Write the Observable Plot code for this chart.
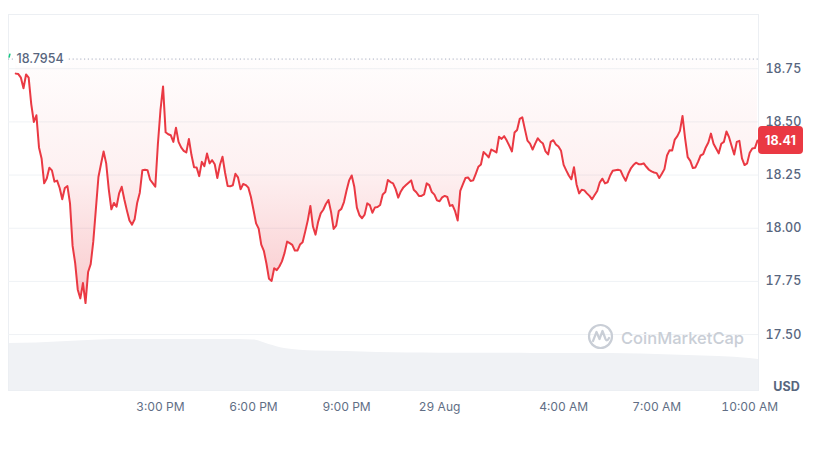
<!DOCTYPE html>
<html><head><meta charset="utf-8">
<script src="https://cdn.jsdelivr.net/npm/d3@7"></script>
<script src="https://cdn.jsdelivr.net/npm/@observablehq/plot@0.6"></script>
<style>
html,body{margin:0;padding:0;background:#fff;}
#wrap{position:relative;width:816px;height:450px;font-family:Inter,"Noto Sans",sans-serif;}
#wrap svg{position:absolute;left:0;top:0;}
</style></head><body><div id="wrap"></div>
<script>
// ---- data ----
const startTime = "2024-08-28T10:20:00Z";
const stepMinutes = 5;
const prices = [
18.727,18.725,18.708,18.658,18.723,18.708,18.584,18.500,18.531,18.380,
18.328,18.211,18.234,18.284,18.272,18.219,18.224,18.189,18.136,18.189,
18.198,18.117,17.917,17.836,17.711,17.670,17.742,17.648,17.794,17.831,
17.937,18.089,18.241,18.302,18.361,18.305,18.183,18.089,18.119,18.101,
18.164,18.195,18.136,18.084,18.036,18.017,18.042,18.120,18.167,18.273,
18.275,18.273,18.228,18.212,18.195,18.395,18.555,18.667,18.451,18.442,
18.437,18.406,18.473,18.406,18.380,18.364,18.356,18.420,18.344,18.287,
18.286,18.245,18.312,18.292,18.351,18.305,18.320,18.301,18.236,18.297,
18.336,18.261,18.198,18.197,18.202,18.256,18.239,18.183,18.208,18.203,
18.191,18.147,18.086,18.023,17.998,17.923,17.894,17.834,17.762,17.752,
17.812,17.803,17.820,17.844,17.883,17.937,17.930,17.922,17.895,17.895,
17.923,17.934,17.984,18.037,18.105,18.008,17.970,18.030,18.070,18.087,
18.114,18.133,18.077,17.997,18.012,18.081,18.091,18.123,18.177,18.225,
18.248,18.195,18.097,18.061,18.047,18.064,18.117,18.109,18.073,18.098,
18.100,18.109,18.159,18.170,18.227,18.217,18.211,18.184,18.144,18.173,
18.192,18.203,18.214,18.225,18.181,18.169,18.152,18.152,18.159,18.211,
18.203,18.170,18.158,18.131,18.127,18.145,18.152,18.147,18.105,18.109,
18.080,18.036,18.176,18.206,18.236,18.239,18.222,18.225,18.256,18.289,
18.300,18.358,18.347,18.333,18.370,18.364,18.356,18.430,18.420,18.433,
18.412,18.387,18.361,18.450,18.462,18.514,18.522,18.466,18.412,18.398,
18.370,18.398,18.423,18.408,18.398,18.361,18.347,18.406,18.414,18.394,
18.384,18.364,18.298,18.272,18.248,18.230,18.287,18.206,18.164,18.181,
18.178,18.164,18.152,18.136,18.156,18.175,18.216,18.233,18.211,18.216,
18.248,18.270,18.273,18.275,18.272,18.245,18.223,18.256,18.281,18.297,
18.308,18.301,18.301,18.305,18.289,18.275,18.267,18.262,18.259,18.236,
18.256,18.278,18.342,18.367,18.366,18.417,18.433,18.458,18.528,18.423,
18.334,18.317,18.283,18.286,18.312,18.342,18.348,18.380,18.403,18.445,
18.397,18.375,18.352,18.397,18.406,18.455,18.428,18.387,18.347,18.406,
18.411,18.328,18.297,18.305,18.355,18.375,18.377,18.412
];
const openPrice = 18.7954;
const lastPriceLabel = "18.41";
const currency = "USD";
const yTicks = [17.5, 17.75, 18, 18.25, 18.5, 18.75];
const xTickTimes = ["2024-08-28T15:00:00Z","2024-08-28T18:00:00Z","2024-08-28T21:00:00Z",
  "2024-08-29T00:00:00Z","2024-08-29T04:00:00Z","2024-08-29T07:00:00Z","2024-08-29T10:00:00Z"];
const xTickLabels = ["3:00 PM","6:00 PM","9:00 PM","29 Aug","4:00 AM","7:00 AM","10:00 AM"];
const xDomainTimes = ["2024-08-28T10:06:00Z","2024-08-29T10:17:00Z"];
const volumeTimes = ["2024-08-28T10:06:00Z","2024-08-28T11:00:00Z","2024-08-28T12:00:00Z","2024-08-28T13:00:00Z",
  "2024-08-28T14:00:00Z","2024-08-28T15:00:00Z","2024-08-28T16:00:00Z","2024-08-28T17:00:00Z","2024-08-28T18:00:00Z",
  "2024-08-28T18:30:00Z","2024-08-28T19:00:00Z","2024-08-28T20:00:00Z","2024-08-28T21:00:00Z","2024-08-28T22:00:00Z",
  "2024-08-28T23:00:00Z","2024-08-29T00:00:00Z","2024-08-29T01:00:00Z","2024-08-29T02:00:00Z","2024-08-29T03:00:00Z",
  "2024-08-29T04:00:00Z","2024-08-29T05:00:00Z","2024-08-29T06:00:00Z","2024-08-29T07:00:00Z","2024-08-29T08:00:00Z",
  "2024-08-29T09:00:00Z","2024-08-29T10:00:00Z","2024-08-29T10:17:00Z"];
const volumeValues = [47,47.5,49,50.5,51,51,51,51,50.5,46,42,39.5,39,38,37.5,37.3,37.2,37.2,37.1,37,37,36.8,36,35,34,32,31];
const watermark = "CoinMarketCap";

// ---- build tables ----
const t0 = +new Date(startTime);
const data = prices.map((p, i) => ({t: new Date(t0 + i * stepMinutes * 60000), p}));
const vol = volumeTimes.map((t, i) => ({t: new Date(t), v: volumeValues[i]}));
const xTicks = xTickTimes.map(d => new Date(d));
const labelMap = new Map(xTicks.map((d, i) => [+d, xTickLabels[i]]));
const xDomain = xDomainTimes.map(d => new Date(d));

const W = 816, H = 450, mL = 8, mR = 58, mT = 14, mB = 60;
const wrap = document.getElementById("wrap");

const volPlot = Plot.plot({
  width: W, height: H, marginLeft: mL, marginRight: mR, marginTop: mT, marginBottom: mB,
  style: {background: "white"},
  x: {type: "utc", domain: xDomain, axis: null},
  y: {domain: [0, 376], axis: null},
  marks: [
    Plot.areaY(vol, {x: "t", y: "v", fill: "#f0f2f5", curve: "monotone-x"})
  ]
});
wrap.appendChild(volPlot);

const defs = () => {
  const d = d3.create("svg:defs");
  const g = d.append("linearGradient").attr("id", "redfade").attr("x1", 0).attr("y1", 0).attr("x2", 0).attr("y2", 1);
  g.append("stop").attr("offset", "0%").attr("stop-color", "#ea3943").attr("stop-opacity", 0.01);
  g.append("stop").attr("offset", "45%").attr("stop-color", "#ea3943").attr("stop-opacity", 0.07);
  g.append("stop").attr("offset", "100%").attr("stop-color", "#ea3943").attr("stop-opacity", 0.27);
  return d.node();
};

const chart = Plot.plot({
  width: W, height: H, marginLeft: mL, marginRight: mR, marginTop: mT, marginBottom: mB,
  style: {background: "transparent", fontFamily: "Inter, 'Noto Sans', sans-serif", fontSize: "12px", color: "#616e85"},
  x: {type: "utc", domain: xDomain, label: null},
  y: {domain: [17.237, 19.005], label: null},
  marks: [
    defs,
    Plot.frame({stroke: "#eceff3"}),
    Plot.gridY(yTicks, {stroke: "#eff2f5", strokeOpacity: 1}),
    Plot.areaY(data, {x: "t", y1: () => openPrice, y2: "p", fill: "url(#redfade)"}),
    Plot.ruleY([openPrice], {stroke: "#a6b0c3", strokeDasharray: "1.2,2.6", strokeWidth: 1}),
    Plot.lineY(data, {x: "t", y: "p", stroke: "#ea3943", strokeWidth: 2, strokeLinejoin: "round"}),
    Plot.text([openPrice], {y: d => d, frameAnchor: "left", dx: 8, text: d => String(d), textAnchor: "start",
      fill: "#58667e", stroke: "white", strokeWidth: 8, paintOrder: "stroke", fontSize: 12.5, fontWeight: 500}),
    Plot.axisY({anchor: "right", ticks: yTicks, tickSize: 0, tickPadding: 7, tickFormat: d => d.toFixed(2),
      fontSize: 12.5, fontWeight: 500, fill: "#58667e", label: null}),
    Plot.axisX({ticks: xTicks, tickSize: 0, tickPadding: 12, tickFormat: d => labelMap.get(+d), fontSize: 12, fill: "#616e85", label: null})
  ]
});
wrap.appendChild(chart);

// ---- overlays positioned with the plot's own scales ----
const ys = chart.scale("y");
const svg = d3.select(chart);
const lastY = ys.apply(prices[prices.length - 1]);
const xr = W - mR;
svg.append("rect").attr("x", xr).attr("y", lastY - 14).attr("width", 45).attr("height", 28).attr("rx", 4).attr("fill", "#ea3943");
svg.append("text").attr("x", xr + 22.5).attr("y", lastY).attr("text-anchor", "middle").attr("dominant-baseline", "central")
  .attr("fill", "white").attr("font-size", 12.5).attr("font-weight", 700).text(lastPriceLabel);
svg.append("text").attr("x", xr + 28.5).attr("y", H - mB - 3.5).attr("text-anchor", "middle").attr("dominant-baseline", "central")
  .attr("fill", "#58667e").attr("font-size", 12.5).attr("font-weight", 700).text(currency);
// small green marker at the opening line
const oy = ys.apply(openPrice);
svg.append("line").attr("x1", mL + 1).attr("x2", mL + 2).attr("y1", oy - 1).attr("y2", oy - 5).attr("stroke", "#16c784").attr("stroke-width", 1.5);
// watermark
const wm = svg.append("g").attr("fill", "none").attr("stroke", "#c9ced6").attr("stroke-width", 2.2);
wm.append("circle").attr("cx", 600.5).attr("cy", 336.5).attr("r", 11.5);
wm.append("path").attr("d", "M593,341 L596.5,332 L599.5,339 L602.5,331 L605.5,339 Q607,342 609,338").attr("stroke-linejoin", "round").attr("stroke-linecap", "round");
svg.append("text").attr("x", 621).attr("y", 338).attr("text-anchor", "start").attr("dominant-baseline", "central").attr("fill", "#c9ced6")
  .attr("font-size", 16.5).attr("font-weight", 500).text(watermark);
</script></body></html>
